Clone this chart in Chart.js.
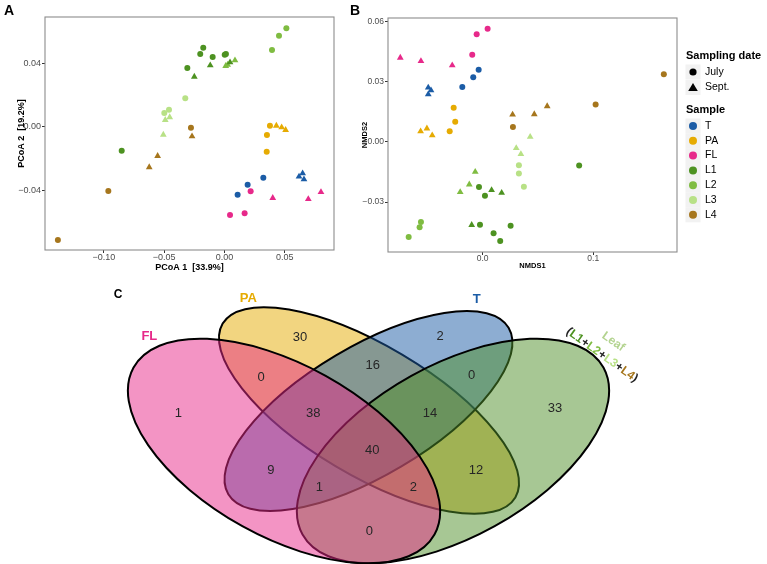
<!DOCTYPE html>
<html>
<head>
<meta charset="utf-8">
<script src="https://cdn.jsdelivr.net/npm/chart.js@4.4.0/dist/chart.umd.min.js"></script>
<style>
  body { margin: 0; background: #fff; width: 767px; height: 564px; position: relative; overflow: hidden; }
  canvas { position: absolute; }
</style>
</head>
<body>
<canvas id="pcoa" width="340" height="275" style="left:0;top:0"></canvas>
<canvas id="nmds" width="427" height="272" style="left:340px;top:0"></canvas>
<canvas id="venn" width="767" height="288" style="left:0;top:276px"></canvas>
<script>
/* ---------------------------------------------------------------------------------*/
/* Data */
/* ---------------------------------------------------------------------------------*/

const samples = ['T', 'PA', 'FL', 'L1', 'L2', 'L3', 'L4'];
const sampleColors = ['#1b5ca6', '#e6ab02', '#e7298a', '#4d9221', '#7fbc41', '#b8e186', '#a6761d'];
const dates = ['July', 'Sept.'];

// PCoA scores [PCoA1, PCoA2], one list per sample (same order as samples)
const pcoaJuly = [
   [[0.0109, -0.0427], [0.0192, -0.0364], [0.0322, -0.0320]],
   [[0.0377, 0.0007], [0.0352, -0.0052], [0.0350, -0.0156]],
   [[0.0046, -0.0554], [0.0167, -0.0543], [0.0217, -0.0405]],
   [[-0.0308, 0.0369], [-0.0201, 0.0457], [-0.0176, 0.0497], [-0.0098, 0.0438], [0.0002, 0.0453], [0.0012, 0.0457], [-0.0852, -0.0150]],
   [[0.0394, 0.0482], [0.0452, 0.0572], [0.0513, 0.0619]],
   [[-0.0325, 0.0179], [-0.0499, 0.0087], [-0.0460, 0.0107]],
   [[-0.0278, -0.0006], [-0.0963, -0.0403], [-0.1381, -0.0711]]
];
const pcoaSept = [
   [[0.0618, -0.0313], [0.0648, -0.0292], [0.0659, -0.0330]],
   [[0.0430, 0.0007], [0.0474, -0.0003], [0.0507, -0.0020]],
   [[0.0400, -0.0447], [0.0695, -0.0454], [0.0800, -0.0410]],
   [[-0.0250, 0.0315], [-0.0118, 0.0386], [0.0046, 0.0405]],
   [[0.0010, 0.0382], [0.0026, 0.0390], [0.0087, 0.0418]],
   [[-0.0491, 0.0043], [-0.0454, 0.0060], [-0.0507, -0.0050]],
   [[-0.0269, -0.0060], [-0.0554, -0.0183], [-0.0624, -0.0254]]
];

// NMDS scores [NMDS1, NMDS2]
const nmdsJuly = [
   [[-0.0036, 0.0360], [-0.0085, 0.0323], [-0.0184, 0.0274]],
   [[-0.0262, 0.0171], [-0.0248, 0.0100], [-0.0298, 0.0053]],
   [[0.0045, 0.0564], [-0.0054, 0.0537], [-0.0094, 0.0435]],
   [[-0.0033, -0.0225], [0.0021, -0.0269], [0.0099, -0.0456], [0.0159, -0.0494], [0.0253, -0.0418], [-0.0024, -0.0413], [0.0873, -0.0117]],
   [[-0.0669, -0.0474], [-0.0570, -0.0426], [-0.0558, -0.0400]],
   [[0.0328, -0.0116], [0.0328, -0.0157], [0.0373, -0.0224]],
   [[0.0274, 0.0075], [0.1022, 0.0186], [0.1639, 0.0337]]
];
const nmdsSept = [
   [[-0.0492, 0.0271], [-0.0467, 0.0257], [-0.0492, 0.0237]],
   [[-0.0561, 0.0053], [-0.0504, 0.0067], [-0.0456, 0.0033]],
   [[-0.0745, 0.0420], [-0.0558, 0.0403], [-0.0275, 0.0382]],
   [[-0.0099, -0.0414], [0.0081, -0.0240], [0.0172, -0.0254]],
   [[-0.0203, -0.0250], [-0.0121, -0.0212], [-0.0067, -0.0149]],
   [[0.0304, -0.0031], [0.0346, -0.0061], [0.0430, 0.0025]],
   [[0.0271, 0.0136], [0.0467, 0.0138], [0.0584, 0.0178]]
];

const pcoaXTicks = [-0.10, -0.05, 0.00, 0.05];
const pcoaYTicks = [-0.04, 0.00, 0.04];
const nmdsXTicks = [0.0, 0.1];
const nmdsYTicks = [-0.03, 0.00, 0.03, 0.06];

// Venn diagram: shared OTUs
const vennSets = ['FL', 'PA', 'T', 'Leaf'];
const vennColors = ['#e7298a', '#e6ab02', '#1b5ca6', '#4f8f2a'];
const vennRegions = ['FL', 'PA', 'T', 'Leaf', 'FL+PA', 'PA+T', 'T+Leaf', 'FL+T', 'PA+Leaf',
   'FL+Leaf', 'FL+PA+T', 'PA+T+Leaf', 'FL+T+Leaf', 'FL+PA+Leaf', 'FL+PA+T+Leaf'];
const vennCounts = [1, 30, 2, 33, 0, 16, 0, 9, 12, 0, 38, 14, 1, 2, 40];
const leafParts = ['L1', 'L2', 'L3', 'L4'];

/* ---------------------------------------------------------------------------------*/
/* Layout of the Venn (in the 0-1 units of the venn chart's scales) */
/* ---------------------------------------------------------------------------------*/

// ellipse per set: centre, semi-axes (x units), rotation (deg)
const vennShapes = {
   FL: { cx: 0.3703, cy: 0.3924, a: 0.2243, b: 0.1121, rot: 29 },
   PA: { cx: 0.4811, cy: 0.5330, a: 0.2219, b: 0.0846, rot: 30.7 },
   T: { cx: 0.4804, cy: 0.5313, a: 0.2125, b: 0.0841, rot: -30.7 },
   Leaf: { cx: 0.5906, cy: 0.3924, a: 0.2243, b: 0.1121, rot: -29 }
};
const vennDrawOrder = ['PA', 'T', 'Leaf', 'FL'];
const regionSpots = [
   [0.2325, 0.5233], [0.3911, 0.7872], [0.5737, 0.7892], [0.7236, 0.5406], [0.3403, 0.6483],
   [0.4859, 0.6910], [0.6150, 0.6563], [0.3533, 0.3264], [0.6206, 0.3264], [0.4815, 0.1122],
   [0.4085, 0.5233], [0.5606, 0.5233], [0.4163, 0.2663], [0.5389, 0.2663], [0.4854, 0.3958]
];
const setLabelSpots = { FL: [0.1947, 0.7892], PA: [0.3238, 0.9226], T: [0.6215, 0.9191] };

const FONT = '"Liberation Sans", Arial, sans-serif';

/* ---------------------------------------------------------------------------------*/
/* Helpers */
/* ---------------------------------------------------------------------------------*/

const rgba = (hex, a) => {
   const n = parseInt(hex.slice(1), 16);
   return `rgba(${n >> 16},${(n >> 8) & 255},${n & 255},${a})`;
};

const fmt = (v, dec) => {
   const s = Math.abs(v).toFixed(dec);
   return (v < -1e-9 ? '\u2212' : '') + s;
};

const makeDatasets = (july, sept) => {
   const sets = [];
   samples.forEach((s, i) => {
      sets.push({
         label: s + ' ' + dates[0],
         data: july[i].map(p => ({ x: p[0], y: p[1] })),
         pointStyle: 'circle', pointRadius: 3, borderWidth: 0,
         backgroundColor: sampleColors[i]
      });
      sets.push({
         label: s + ' ' + dates[1],
         data: sept[i].map(p => ({ x: p[0], y: p[1] })),
         pointStyle: 'triangle', pointRadius: 3.9, borderWidth: 0,
         backgroundColor: sampleColors[i]
      });
   });
   return sets;
};

// grey panel border + panel letter
const framePlugin = {
   id: 'frame',
   afterDraw(chart, args, opts) {
      const { ctx, chartArea: a } = chart;
      ctx.save();
      ctx.strokeStyle = '#8c8c8c';
      ctx.lineWidth = 1.1;
      ctx.strokeRect(a.left, a.top, a.right - a.left, a.bottom - a.top);
      ctx.fillStyle = '#000';
      ctx.font = 'bold 14px ' + FONT;
      ctx.textAlign = 'center';
      ctx.textBaseline = 'middle';
      ctx.fillText(opts.tag, opts.tagX, opts.tagY);
      ctx.restore();
   }
};

const scatterConfig = (o) => ({
   type: 'scatter',
   data: { datasets: makeDatasets(o.july, o.sept) },
   options: {
      responsive: false,
      animation: false,
      events: [],
      layout: { padding: o.padding },
      plugins: { legend: { display: false }, tooltip: { enabled: false }, frame: o.frame },
      scales: {
         x: {
            min: o.xRange[0], max: o.xRange[1],
            afterBuildTicks: s => { s.ticks = o.xTicks.map(v => ({ value: v })); },
            afterFit: s => { s.height = o.xAxisH; },
            ticks: { callback: v => fmt(v, o.xDec), font: { family: FONT, size: o.tickSize }, color: '#4d4d4d', padding: -1, maxRotation: 0 },
            grid: { drawOnChartArea: false, drawTicks: true, tickLength: 3, color: '#333' },
            border: { display: false },
            title: { display: true, text: o.xTitle, font: { family: FONT, size: o.titleSize, weight: 'bold' }, color: '#000', padding: { top: 0, bottom: 2 } }
         },
         y: {
            min: o.yRange[0], max: o.yRange[1],
            afterBuildTicks: s => { s.ticks = o.yTicks.map(v => ({ value: v })); },
            afterFit: s => { s.width = o.yAxisW; },
            ticks: { callback: v => fmt(v, o.yDec), font: { family: FONT, size: o.tickSize }, color: '#4d4d4d', padding: 1 },
            grid: { drawOnChartArea: false, drawTicks: true, tickLength: 3, color: '#333' },
            border: { display: false },
            title: { display: true, text: o.yTitle, font: { family: FONT, size: o.titleSize, weight: 'bold' }, color: '#000', padding: { top: o.yTitlePad, bottom: 0 } }
         }
      }
   },
   plugins: o.extra ? [framePlugin, o.extra] : [framePlugin]
});

/* ---------------------------------------------------------------------------------*/
/* Legend for panel B */
/* ---------------------------------------------------------------------------------*/

const keyLegend = {
   id: 'keyLegend',
   afterDraw(chart) {
      const ctx = chart.ctx;
      const left = chart.chartArea.right + 9;
      const keyX = left + 7;
      const textX = left + 19;
      ctx.save();
      ctx.textAlign = 'left';
      ctx.textBaseline = 'middle';

      const keyBox = (y) => {
         ctx.fillStyle = '#f2f2f2';
         ctx.fillRect(keyX - 7.5, y - 7.5, 15, 15);
      };

      ctx.fillStyle = '#000';
      ctx.font = 'bold 11px ' + FONT;
      ctx.fillText('Sampling date', left, 56);
      ctx.font = '10.5px ' + FONT;
      dates.forEach((d, i) => {
         const y = 72 + i * 15.5;
         keyBox(y);
         ctx.fillStyle = '#000';
         ctx.beginPath();
         if (i === 0) {
            ctx.arc(keyX, y, 3.6, 0, Math.PI * 2);
         } else {
            ctx.moveTo(keyX, y - 4.6);
            ctx.lineTo(keyX + 4.8, y + 3.4);
            ctx.lineTo(keyX - 4.8, y + 3.4);
            ctx.closePath();
         }
         ctx.fill();
         ctx.fillText(d, textX, y);
      });

      ctx.font = 'bold 11px ' + FONT;
      ctx.fillText('Sample', left, 110);
      ctx.font = '10.5px ' + FONT;
      samples.forEach((s, i) => {
         const y = 126 + i * 14.8;
         keyBox(y);
         ctx.fillStyle = sampleColors[i];
         ctx.beginPath();
         ctx.arc(keyX, y, 4, 0, Math.PI * 2);
         ctx.fill();
         ctx.fillStyle = '#000';
         ctx.fillText(s, textX, y);
      });
      ctx.restore();
   }
};

/* ---------------------------------------------------------------------------------*/
/* Panels A and B */
/* ---------------------------------------------------------------------------------*/

new Chart(document.querySelector('#pcoa'), scatterConfig({
   july: pcoaJuly, sept: pcoaSept,
   xRange: [-0.1488, 0.0908], yRange: [-0.0774, 0.0690],
   xTicks: pcoaXTicks, yTicks: pcoaYTicks, xDec: 2, yDec: 2,
   xTitle: 'PCoA 1  [33.9%]', yTitle: 'PCoA 2  [19.2%]',
   tickSize: 9, titleSize: 9, xAxisH: 25, yAxisW: 45, yTitlePad: 16,
   padding: { top: 17, right: 6, left: 0, bottom: 0 },
   frame: { tag: 'A', tagX: 9, tagY: 11 }
}));

new Chart(document.querySelector('#nmds'), scatterConfig({
   july: nmdsJuly, sept: nmdsSept,
   xRange: [-0.0856, 0.1758], yRange: [-0.0549, 0.0618],
   xTicks: nmdsXTicks, yTicks: nmdsYTicks, xDec: 1, yDec: 2,
   xTitle: 'NMDS1', yTitle: 'NMDS2',
   tickSize: 8.5, titleSize: 7.5, xAxisH: 20, yAxisW: 48, yTitlePad: 20,
   padding: { top: 18, right: 90, left: 0, bottom: 0 },
   frame: { tag: 'B', tagX: 15, tagY: 11 },
   extra: keyLegend
}));

/* ---------------------------------------------------------------------------------*/
/* Panel C: Venn diagram drawn through the chart's x / y scales */
/* ---------------------------------------------------------------------------------*/

const vennPlugin = {
   id: 'venn',
   beforeDatasetsDraw(chart) {
      const { ctx, scales: { x, y } } = chart;
      const unit = x.getPixelForValue(1) - x.getPixelForValue(0);
      ctx.save();

      // ellipses, each filled then outlined, so later fills tint earlier borders
      vennDrawOrder.forEach(name => {
         const e = vennShapes[name];
         const col = vennColors[vennSets.indexOf(name)];
         ctx.beginPath();
         ctx.ellipse(x.getPixelForValue(e.cx), y.getPixelForValue(e.cy), e.a * unit, e.b * unit,
            e.rot * Math.PI / 180, 0, Math.PI * 2);
         ctx.fillStyle = rgba(col, 0.5);
         ctx.fill();
         ctx.lineWidth = 2;
         ctx.strokeStyle = '#000';
         ctx.stroke();
      });

      // counts
      ctx.fillStyle = '#262626';
      ctx.font = '13px ' + FONT;
      ctx.textAlign = 'center';
      ctx.textBaseline = 'middle';
      vennCounts.forEach((c, i) => {
         ctx.fillText(String(c), x.getPixelForValue(regionSpots[i][0]), y.getPixelForValue(regionSpots[i][1]));
      });

      // set names
      ctx.font = 'bold 13px ' + FONT;
      ['FL', 'PA', 'T'].forEach(name => {
         ctx.fillStyle = vennColors[vennSets.indexOf(name)];
         const p = setLabelSpots[name];
         ctx.fillText(name, x.getPixelForValue(p[0]), y.getPixelForValue(p[1]));
      });

      // panel letter
      ctx.fillStyle = '#000';
      ctx.font = 'bold 12px ' + FONT;
      ctx.fillText('C', x.getPixelForValue(0.1538), y.getPixelForValue(0.934));

      // rotated Leaf label
      const ang = 35.5 * Math.PI / 180;
      ctx.save();
      ctx.translate(x.getPixelForValue(0.7996), y.getPixelForValue(0.7719));
      ctx.rotate(ang);
      ctx.font = 'bold 12px ' + FONT;
      ctx.fillStyle = '#b3d38f';
      ctx.fillText('Leaf', 0, 0);
      ctx.restore();

      const pieces = [['(', '#222']];
      leafParts.forEach((p, i) => {
         pieces.push([p, sampleColors[samples.indexOf(p)]]);
         pieces.push([i < leafParts.length - 1 ? '+' : ')', '#222']);
      });
      ctx.save();
      ctx.translate(x.getPixelForValue(0.7849), y.getPixelForValue(0.7257));
      ctx.rotate(ang);
      ctx.font = 'bold 12px ' + FONT;
      ctx.textAlign = 'left';
      const total = pieces.reduce((w, p) => w + ctx.measureText(p[0]).width, 0);
      let cx = -total / 2;
      pieces.forEach(p => {
         ctx.fillStyle = p[1];
         ctx.fillText(p[0], cx, 0);
         cx += ctx.measureText(p[0]).width;
      });
      ctx.restore();

      ctx.restore();
   }
};

new Chart(document.querySelector('#venn'), {
   type: 'scatter',
   data: {
      datasets: [{
         label: 'regions',
         data: regionSpots.map(p => ({ x: p[0], y: p[1] })),
         pointRadius: 0
      }]
   },
   options: {
      responsive: false,
      animation: false,
      events: [],
      layout: { padding: 0 },
      plugins: { legend: { display: false }, tooltip: { enabled: false } },
      scales: {
         x: { min: 0, max: 1, display: false },
         y: { min: 0, max: 1, display: false }
      }
   },
   plugins: [vennPlugin]
});
</script>
</body>
</html>
